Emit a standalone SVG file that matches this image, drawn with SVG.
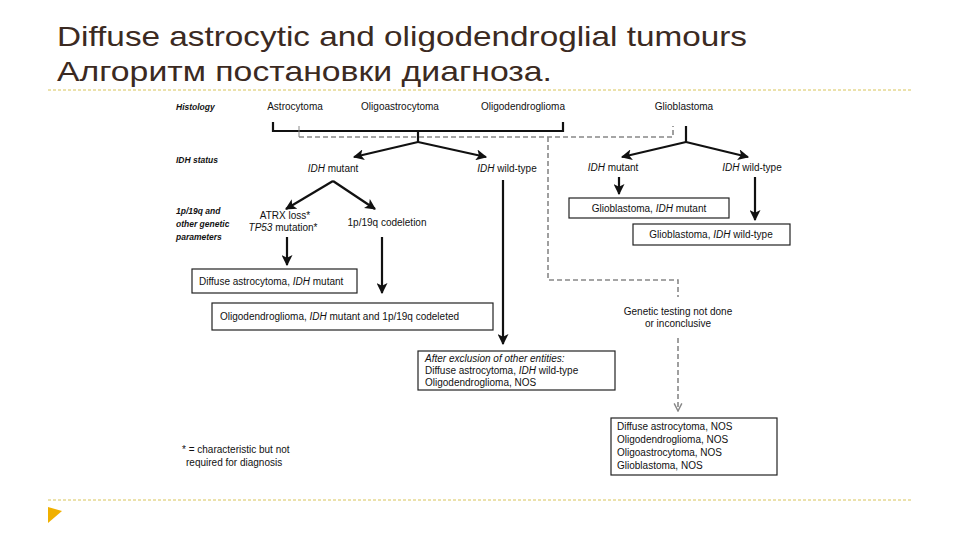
<svg xmlns="http://www.w3.org/2000/svg" width="960" height="540" viewBox="0 0 960 540">
<defs>
<style>
.title{font-family:"Liberation Sans Narrow","Liberation Sans","DejaVu Sans",sans-serif;font-size:28px;fill:#3b2a22}
.t{font-family:"Liberation Sans",Arial,sans-serif;font-size:10px;fill:#111}
.c{text-anchor:middle}
.i{font-style:italic}
.lab{font-family:"Liberation Sans",Arial,sans-serif;font-size:8.5px;font-style:italic;font-weight:bold;fill:#111}
.box{fill:#fff;stroke:#222;stroke-width:1.2}
.ln{fill:none;stroke:#111;stroke-width:2.2}
.ar{fill:none;stroke:#111;stroke-width:2.2;marker-end:url(#ah)}
.ds{fill:none;stroke:#888;stroke-width:1.6;stroke-dasharray:5 3}
.rule{stroke:#d8c459;stroke-width:1;stroke-dasharray:3 2}
</style>
<marker id="ah" viewBox="0 0 10 10" refX="9" refY="5" markerWidth="5" markerHeight="5" orient="auto" markerUnits="strokeWidth">
<path d="M0,0 L10,5 L0,10 L2.5,5 Z" fill="#111"/>
</marker>
<marker id="ahg" viewBox="0 0 10 10" refX="9" refY="5" markerWidth="6" markerHeight="6" orient="auto" markerUnits="strokeWidth">
<path d="M1,1 L9,5 L1,9" fill="none" stroke="#888" stroke-width="1.5"/>
</marker>
</defs>
<rect width="960" height="540" fill="#fff"/>
<g id="title">
<text class="title" x="57" y="46" textLength="690" lengthAdjust="spacingAndGlyphs">Diffuse astrocytic and oligodendroglial tumours</text>
<text class="title" x="57" y="81" textLength="495" lengthAdjust="spacingAndGlyphs">Алгоритм постановки диагноза.</text>
</g>
<line class="rule" x1="48" y1="90" x2="912" y2="90"/>
<line class="rule" x1="48" y1="500" x2="912" y2="500"/>
<path d="M48,507 L62,511 L48,523 Z" fill="#f0b000"/>

<g id="row-labels">
<text class="lab" x="176" y="110">Histology</text>
<text class="lab" x="176" y="163"><tspan>IDH</tspan> status</text>
<text class="lab" x="176" y="214">1p/19q and</text>
<text class="lab" x="176" y="227">other genetic</text>
<text class="lab" x="176" y="240">parameters</text>
</g>

<g id="connectors">
<path class="ln" d="M273,122 V131 H563 V122"/>
<path class="ln" d="M418,131 V142"/>
<path class="ar" d="M418,142 L354,157"/>
<path class="ar" d="M418,142 L486,157"/>
<path class="ar" d="M333,181 L286,209"/>
<path class="ar" d="M333,181 L375,209"/>
<path class="ar" d="M287,237 V265"/>
<path class="ar" d="M382,237 V293"/>
<path class="ar" d="M503,180 V344"/>
<path class="ln" d="M686,126 V142"/>
<path class="ar" d="M686,142 L622,157"/>
<path class="ar" d="M686,142 L748,157"/>
<path class="ar" d="M619,177 V194"/>
<path class="ar" d="M755,177 V220"/>
<line x1="299" y1="126" x2="299" y2="137" stroke="#888" stroke-width="1"/>
<path class="ds" d="M299,137 H673 V126"/>
<path class="ds" d="M548,137 V280 H678 V297"/>
<path class="ds" d="M678,338 V411" marker-end="url(#ahg)"/>
</g>

<g id="n-astrocytoma"><text class="t c" x="295" y="110">Astrocytoma</text></g>
<g id="n-oligoastrocytoma"><text class="t c" x="400" y="110">Oligoastrocytoma</text></g>
<g id="n-oligodendroglioma"><text class="t c" x="523" y="110">Oligodendroglioma</text></g>
<g id="n-glioblastoma"><text class="t c" x="684" y="110">Glioblastoma</text></g>
<g id="n-idh-mut"><text class="t c" x="333" y="172"><tspan class="i">IDH</tspan> mutant</text></g>
<g id="n-idh-wt"><text class="t c" x="507" y="172"><tspan class="i">IDH</tspan> wild-type</text></g>
<g id="n-atrx"><text class="t c" x="285" y="219">ATRX loss*</text><text class="t c" x="283" y="231"><tspan class="i">TP53</tspan> mutation*</text></g>
<g id="n-codel"><text class="t c" x="387" y="226">1p/19q codeletion</text></g>
<g id="n-gbm-idh-mut"><text class="t c" x="613" y="171"><tspan class="i">IDH</tspan> mutant</text></g>
<g id="n-gbm-idh-wt"><text class="t c" x="752" y="171"><tspan class="i">IDH</tspan> wild-type</text></g>
<g id="b-gbm-mut"><rect class="box" x="569" y="198" width="160" height="20"/><text class="t c" x="649" y="212">Glioblastoma, <tspan class="i">IDH</tspan> mutant</text></g>
<g id="b-gbm-wt"><rect class="box" x="633" y="224" width="157" height="21"/><text class="t c" x="711" y="238">Glioblastoma, <tspan class="i">IDH</tspan> wild-type</text></g>
<g id="b-da-mut"><rect class="box" x="192" y="269" width="165" height="24"/><text class="t" x="199" y="285">Diffuse astrocytoma, <tspan class="i">IDH</tspan> mutant</text></g>
<g id="b-oligo"><rect class="box" x="212" y="303" width="281" height="27"/><text class="t" x="220" y="320">Oligodendroglioma, <tspan class="i">IDH</tspan> mutant and 1p/19q codeleted</text></g>
<g id="b-after"><rect class="box" x="418" y="351" width="197" height="39"/>
<text class="t i" x="425" y="362">After exclusion of other entities:</text>
<text class="t" x="425" y="374">Diffuse astrocytoma, <tspan class="i">IDH</tspan> wild-type</text>
<text class="t" x="425" y="386">Oligodendroglioma, NOS</text></g>
<g id="n-genetic"><text class="t c" x="678" y="315">Genetic testing not done</text><text class="t c" x="678" y="327">or inconclusive</text></g>
<g id="b-nos"><rect class="box" x="611" y="418" width="166" height="57"/>
<text class="t" x="617" y="430">Diffuse astrocytoma, NOS</text>
<text class="t" x="617" y="443">Oligodendroglioma, NOS</text>
<text class="t" x="617" y="456">Oligoastrocytoma, NOS</text>
<text class="t" x="617" y="469">Glioblastoma, NOS</text></g>
<g id="footnote"><text class="t" x="182" y="453">* = characteristic but not</text><text class="t" x="186" y="466">required for diagnosis</text></g>
</svg>
